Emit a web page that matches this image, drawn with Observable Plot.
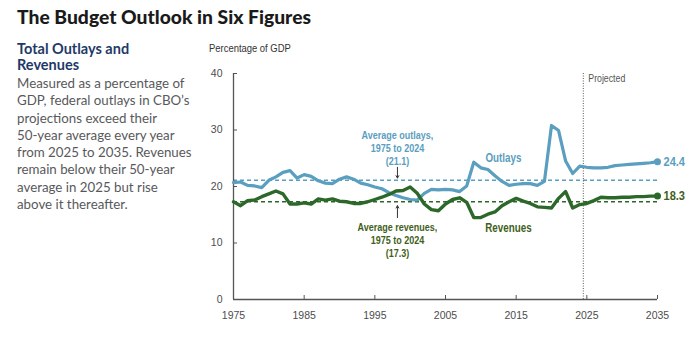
<!DOCTYPE html>
<html>
<head>
<meta charset="utf-8">
<script src="https://cdn.jsdelivr.net/npm/d3@7"></script>
<script src="https://cdn.jsdelivr.net/npm/@observablehq/plot@0.6"></script>
<style>
  html, body { margin: 0; padding: 0; background: #fff; }
  body { width: 700px; height: 348px; position: relative; overflow: hidden; font-family: Lato, "Open Sans", sans-serif; }
  #title { position: absolute; left: 17px; top: 5px; font-family: Lato, sans-serif; font-weight: 900; font-size: 19.3px; color: #1a1a1a; white-space: nowrap; }
  #subtitle { position: absolute; left: 17px; top: 41px; font-family: Lato, sans-serif; font-weight: 700; font-size: 14.5px; line-height: 16px; color: #1f3a68; }
  #body { position: absolute; left: 17px; top: 75px; font-family: Lato, sans-serif; font-size: 13.3px; line-height: 17.3px; color: #58595b; white-space: nowrap; }
  #ylabel { position: absolute; left: 209px; top: 42px; font-family: "Liberation Sans", Arial, sans-serif; font-size: 11.5px; color: #333; transform: scaleX(0.82); transform-origin: left center; white-space: nowrap; }
  #chart { position: absolute; left: 190px; top: 40px; }
</style>
</head>
<body>
<div id="title">The Budget Outlook in Six Figures</div>
<div id="subtitle">Total Outlays and<br>Revenues</div>
<div id="body">Measured as a percentage of<br>GDP, federal outlays in CBO’s<br>projections exceed their<br>50-year average every year<br>from 2025 to 2035. Revenues<br>remain below their 50-year<br>average in 2025 but rise<br>above it thereafter.</div>
<div id="ylabel">Percentage of GDP</div>
<div id="chart"></div>
<script>
const years = d3.range(1975, 2036);
const outlays = [
  20.7, 20.8, 20.2, 20.1, 19.8, 21.1, 21.7, 22.5, 22.8, 21.5,
  22.1, 21.8, 21.0, 20.6, 20.5, 21.3, 21.7, 21.3, 20.6, 20.3,
  19.9, 19.6, 18.9, 18.4, 18.0, 17.7, 17.6, 18.8, 19.5, 19.4,
  19.5, 19.4, 19.1, 20.1, 24.3, 23.3, 23.0, 21.9, 20.9, 20.2,
  20.4, 20.5, 20.5, 20.2, 20.9, 30.8, 29.9, 24.5, 22.3, 23.6,
  23.4, 23.3, 23.3, 23.4, 23.7, 23.8, 23.9, 24.0, 24.1, 24.2, 24.4
];
const revenues = [
  17.3, 16.6, 17.5, 17.6, 18.2, 18.7, 19.2, 18.7, 16.9, 16.9,
  17.1, 16.9, 17.8, 17.6, 17.8, 17.4, 17.3, 17.0, 17.0, 17.3,
  17.7, 18.1, 18.6, 19.2, 19.3, 19.9, 18.8, 16.9, 15.9, 15.7,
  16.9, 17.7, 18.0, 17.2, 14.5, 14.5, 15.1, 15.5, 16.6, 17.3,
  17.9, 17.4, 17.0, 16.4, 16.3, 16.2, 17.9, 19.1, 16.2, 16.8,
  17.0, 17.5, 18.1, 18.0, 18.0, 18.1, 18.1, 18.2, 18.2, 18.3, 18.3
];
const avgOutlays = 21.1;
const avgRevenues = 17.3;
const projectionStart = 2024.5;
const xTicks = [1975, 1985, 1995, 2005, 2015, 2025, 2035];
const yTicks = [0, 10, 20, 30, 40];

const outlayColor = "#5a9ec0";
const revenueColor = "#2d682b";
const revenueText = "#3f5f1c";
const sans = "'Liberation Sans', Arial, sans-serif";

const outlayData = years.map((y, i) => ({year: y, value: outlays[i]}));
const revenueData = years.map((y, i) => ({year: y, value: revenues[i]}));
const lastOutlay = outlayData[outlayData.length - 1];
const lastRevenue = revenueData[revenueData.length - 1];

const seriesLabels = [
  {year: 2013.2, value: 25.0, text: "Outlays", color: outlayColor},
  {year: 2013.9, value: 12.6, text: "Revenues", color: revenueText}
];
const avgLabels = [
  {year: 1998.2, value: 26.85, text: "Average outlays,\n1975 to 2024\n(21.1)", color: outlayColor},
  {year: 1998.2, value: 10.57, text: "Average revenues,\n1975 to 2024\n(17.3)", color: revenueText}
];
const avgArrows = [
  {x: 1998.2, y1: 23.4, y2: 21.5},
  {x: 1998.2, y1: 14.5, y2: 16.6}
];

const chart = Plot.plot({
  width: 510,
  height: 295,
  marginLeft: 43,
  marginRight: 43,
  marginTop: 33,
  marginBottom: 36,
  style: {fontFamily: sans, fontSize: "10.5px", color: "#4d4d4d", background: "transparent"},
  x: {domain: [1975, 2035], label: null},
  y: {domain: [0, 40], label: null},
  marks: [
    Plot.ruleY([avgOutlays], {stroke: outlayColor, strokeWidth: 1.5, strokeDasharray: "4,3"}),
    Plot.ruleY([avgRevenues], {stroke: revenueColor, strokeWidth: 1.5, strokeDasharray: "4,3"}),
    Plot.ruleX([projectionStart], {stroke: "#555", strokeWidth: 1, strokeDasharray: "1,1.5"}),
    Plot.ruleX([1975], {stroke: "#555", strokeWidth: 1.3}),
    Plot.ruleY([0], {stroke: "#555", strokeWidth: 1.3}),
    Plot.axisY({ticks: yTicks, tickSize: 0, tickPadding: 11, fontSize: 10.5}),
    Plot.axisY({ticks: yTicks.slice(1), tickSize: 4, dx: 4, tickFormat: () => "", stroke: "#555"}),
    Plot.axisX({ticks: xTicks, tickSize: 0, tickPadding: 12, tickFormat: d => String(d), fontSize: 10.5}),
    Plot.axisX({ticks: xTicks.slice(1), tickSize: 4, dy: -4, tickFormat: () => "", stroke: "#555"}),
    Plot.line(outlayData, {x: "year", y: "value", stroke: outlayColor, strokeWidth: 3.2, strokeLinejoin: "round", strokeLinecap: "round"}),
    Plot.line(revenueData, {x: "year", y: "value", stroke: revenueColor, strokeWidth: 3.4, strokeLinejoin: "round", strokeLinecap: "round"}),
    Plot.dot([lastOutlay], {x: "year", y: "value", r: 3.5, fill: outlayColor}),
    Plot.dot([lastRevenue], {x: "year", y: "value", r: 3.5, fill: revenueColor}),
    Plot.text([lastOutlay], {x: "year", y: "value", text: d => d.value.toFixed(1), dx: 6, textAnchor: "start", fill: outlayColor, fontWeight: "bold", fontSize: 13.5, fontFamily: sans}),
    Plot.text([lastRevenue], {x: "year", y: "value", text: d => d.value.toFixed(1), dx: 6, textAnchor: "start", fill: revenueText, fontWeight: "bold", fontSize: 13.5, fontFamily: sans}),
    Plot.text(seriesLabels, {x: "year", y: "value", text: "text", fill: d => d.color, fontWeight: "bold", fontSize: 12, fontFamily: sans}),
    Plot.text(avgLabels, {x: "year", y: "value", text: "text", fill: d => d.color, fontWeight: "bold", fontSize: 11, lineHeight: 1.16, fontFamily: sans}),
    Plot.arrow(avgArrows, {x: "x", y1: "y1", y2: "y2", stroke: "#333", strokeWidth: 1, headLength: 4}),
    Plot.text(["Projected"], {x: projectionStart, y: 40, text: d => d, dx: 5, dy: 5, textAnchor: "start", fill: "#555", fontSize: 10.7, fontFamily: sans})
  ]
});

// Condense the annotation text horizontally (narrow typeface look)
const axisLabels = new Set(chart.querySelectorAll('g[aria-label$="tick label"] text'));
chart.querySelectorAll("text").forEach(t => {
  if (axisLabels.has(t)) return;
  const tr = t.getAttribute("transform");
  if (tr) {
    t.setAttribute("transform", tr + " scale(0.82,1)");
  } else {
    const x = +(t.getAttribute("x") || 0), y = +(t.getAttribute("y") || 0);
    t.setAttribute("x", 0);
    t.setAttribute("y", 0);
    t.querySelectorAll("tspan").forEach(s => { if (s.hasAttribute("x")) s.setAttribute("x", 0); });
    t.setAttribute("transform", `translate(${x},${y}) scale(0.82,1)`);
  }
});
document.getElementById("chart").appendChild(chart);
</script>
</body>
</html>
